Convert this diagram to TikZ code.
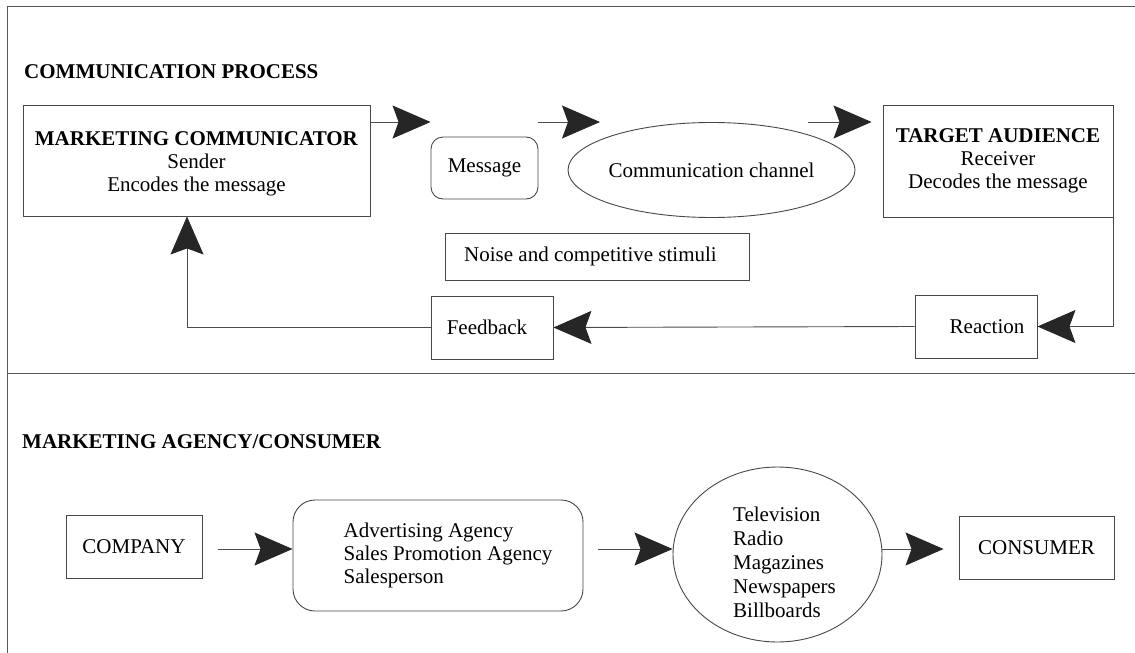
\documentclass[tikz,border=0pt]{standalone}
\usepackage{fontspec}
\setmainfont{Liberation Serif}
\usetikzlibrary{arrows.meta,shapes.geometric}

% a column of lines, lowered by #1 without changing its reported size
\newcommand{\lowcol}[3]{\raisebox{-#1}[\height][\depth]{\begin{tabular}{@{}#2@{}}#3\end{tabular}}}

\begin{document}
\begin{tikzpicture}[x=1pt,y=-1pt,
  txt/.style={font=\fontsize{21}{23}\selectfont},
  box/.style={txt, draw=black!72, line width=0.9pt, rectangle, inner sep=0pt, align=center},
  oval/.style={txt, draw=black!72, line width=0.9pt, ellipse, inner sep=0pt, align=left},
  conn/.style={draw=black!70, line width=0.9pt,
    -{Stealth[length=38pt,width=33pt,inset=6pt,color=black!85]}},
  heading/.style={font=\fontsize{21}{23}\selectfont\bfseries, anchor=base west, inner sep=0pt},
  frame/.style={draw=black!65, line width=0.9pt}
]
\useasboundingbox (0,0) rectangle (1135,653);

% outer frame and section divider
\draw[frame] (1135,6) -- (7,6) -- (7,653);
\draw[frame] (7,373) -- (1135,373);

% ---------- communication process ----------
\node[heading] (h1) at (24,78) {COMMUNICATION PROCESS};

\node[box, minimum width=347pt, minimum height=111pt] (mc) at (196.5,160.5)
  {\lowcol{3pt}{c}{\textbf{MARKETING COMMUNICATOR}\\Sender\\Encodes the message}};
\node[box, rounded corners=12pt, minimum width=107pt, minimum height=62pt] (msg) at (484.5,168) {Message};
\node[oval, inner xsep=-30pt, minimum width=287pt, minimum height=95pt] (chan) at (711.5,170)
  {Communication channel};
\node[box, minimum width=230pt, minimum height=112pt] (ta) at (998,161)
  {\textbf{TARGET AUDIENCE}\\Receiver\\Decodes the message};
\node[box, minimum width=304pt, minimum height=47pt] (noise) at (597,256.5)
  {Noise and competitive stimuli\hspace*{13pt}};
\node[box, minimum width=122pt, minimum height=63pt] (fb) at (492,327.5) {Feedback\hspace*{10pt}};
\node[box, minimum width=122pt, minimum height=63pt] (react) at (976,326.5) {\hspace*{22pt}Reaction};

\coordinate (row) at (0,122);
\coordinate (m2) at (600,122);
\coordinate (c1) at (808,122);
\coordinate (fbturn) at (187,327.5);

\draw[conn] (mc.east |- row) -- (msg.west |- row);
\draw[conn] (msg.east |- row) -- (m2);
\draw[conn, shorten >=11pt] (c1) -- (ta.west |- row);
\draw[conn] (ta.south east) -- (ta.south east |- react.east) -- (react.east);
\draw[conn] (react.west) -- (fb.east);
\draw[conn] (fb.west) -- (fbturn) -- (fbturn |- mc.south);

% ---------- marketing agency / consumer ----------
\node[heading] (h2) at (22,448) {MARKETING AGENCY/CONSUMER};

\node[box, minimum width=136pt, minimum height=63pt] (co) at (134,547) {COMPANY};
\node[box, rounded corners=22pt, align=left, minimum width=290pt, minimum height=111pt] (ag) at (438,555.5)
  {\hspace*{20pt}Advertising Agency\\\hspace*{20pt}Sales Promotion Agency\\\hspace*{20pt}Salesperson};
\node[oval, font=\fontsize{21}{24}\selectfont, minimum width=209pt, minimum height=175pt] (media) at (777.5,554.5)
  {\hspace*{14pt}\lowcol{10pt}{l}{Television\\Radio\\Magazines\\Newspapers\\Billboards}};
\node[box, minimum width=155pt, minimum height=63pt] (cons) at (1036.5,547.5) {CONSUMER};

\coordinate (brow) at (0,549);
\draw[conn, shorten <=16pt] (co.east |- brow) -- (ag.west |- brow);
\draw[conn, shorten <=15pt] (ag.east |- brow) -- (media.west |- brow);
\draw[conn, shorten >=15pt] (media.east |- brow) -- (cons.west |- brow);
\end{tikzpicture}
\end{document}
